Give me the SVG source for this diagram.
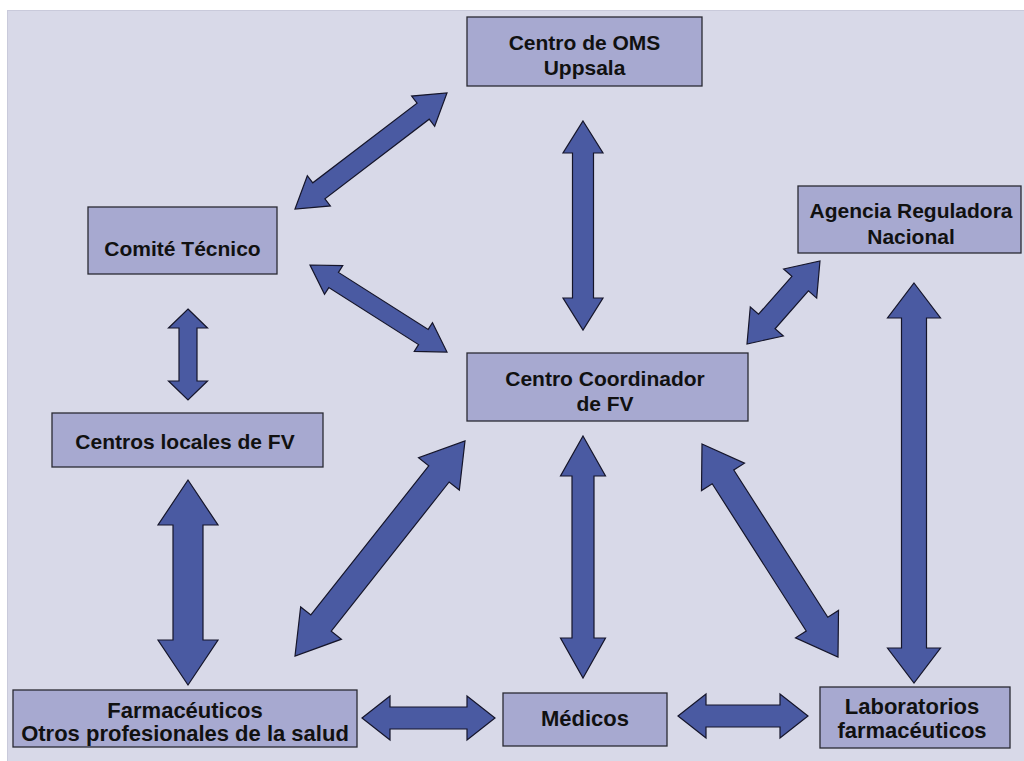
<svg xmlns="http://www.w3.org/2000/svg" width="1024" height="761" viewBox="0 0 1024 761">
<style>
.node rect{fill:#a7a9d0;stroke:#2a2a33;stroke-width:1.3}
.node text{font-family:"Liberation Sans",Arial,sans-serif;font-weight:bold;font-size:21px;fill:#111;text-anchor:middle}
.node text.b{font-size:22px}
#connectors path{fill:#4a5aa2;stroke:#15152a;stroke-width:1.2;stroke-linejoin:miter}
</style>
<rect x="0" y="0" width="1024" height="761" fill="#ffffff"/>
<rect x="7" y="10" width="1017" height="751" fill="#c9cadb"/>
<rect x="8" y="11" width="1016" height="750" fill="#d8d9e8"/>

<g id="connectors">
<!-- Uppsala - Comite -->
<path transform="translate(295,209) rotate(-37.35)" d="M0,0 L30,-19 L30,-10 L161.2,-10 L161.2,-19 L191.2,0 L161.2,19 L161.2,10 L30,10 L30,19 Z"/>
<!-- Uppsala - Coordinador -->
<path transform="translate(583,121) rotate(90)" d="M0,0 L32,-20 L32,-10.5 L177,-10.5 L177,-20 L209,0 L177,20 L177,10.5 L32,10.5 L32,20 Z"/>
<!-- Comite - Coordinador -->
<path transform="translate(310,265) rotate(32.42)" d="M0,0 L28,-17 L28,-9 L134.3,-9 L134.3,-17 L162.3,0 L134.3,17 L134.3,9 L28,9 L28,17 Z"/>
<!-- Agencia - Coordinador -->
<path transform="translate(747,344) rotate(-48.67)" d="M0,0 L30,-22 L30,-11 L80.5,-11 L80.5,-22 L110.5,0 L80.5,22 L80.5,11 L30,11 L30,22 Z"/>
<!-- Agencia - Laboratorios -->
<path transform="translate(914,283) rotate(90)" d="M0,0 L35,-26.5 L35,-12.5 L365,-12.5 L365,-26.5 L400,0 L365,26.5 L365,12.5 L35,12.5 L35,26.5 Z"/>
<!-- Comite - Centros locales -->
<path transform="translate(188,309) rotate(90)" d="M0,0 L19,-19.5 L19,-9 L72,-9 L72,-19.5 L91,0 L72,19.5 L72,9 L19,9 L19,19.5 Z"/>
<!-- Centros locales - Farmaceuticos -->
<path transform="translate(188,480) rotate(90)" d="M0,0 L45,-30 L45,-15 L160,-15 L160,-30 L205,0 L160,30 L160,15 L45,15 L45,30 Z"/>
<!-- Farmaceuticos - Coordinador -->
<path transform="translate(295,656) rotate(-51.67)" d="M0,0 L42,-26 L42,-13 L232.1,-13 L232.1,-26 L274.1,0 L232.1,26 L232.1,13 L42,13 L42,26 Z"/>
<!-- Medicos - Coordinador -->
<path transform="translate(583,436) rotate(90)" d="M0,0 L40,-22.5 L40,-11 L202,-11 L202,-22.5 L242,0 L202,22.5 L202,11 L40,11 L40,22.5 Z"/>
<!-- Coordinador - Laboratorios -->
<path transform="translate(702,444) rotate(57.44)" d="M0,0 L39,-25.5 L39,-12.8 L213.7,-12.8 L213.7,-25.5 L252.7,0 L213.7,25.5 L213.7,12.8 L39,12.8 L39,25.5 Z"/>
<!-- Farmaceuticos - Medicos -->
<path transform="translate(362,718)" d="M0,0 L28,-22 L28,-11 L105,-11 L105,-22 L133,0 L105,22 L105,11 L28,11 L28,22 Z"/>
<!-- Medicos - Laboratorios -->
<path transform="translate(678,716)" d="M0,0 L28,-22 L28,-11 L102,-11 L102,-22 L130,0 L102,22 L102,11 L28,11 L28,22 Z"/>
</g>

<g id="uppsala" class="node">
<rect x="467" y="17" width="235" height="69"/>
<text x="584.5" y="50">Centro de OMS</text>
<text x="584.5" y="75">Uppsala</text>
</g>
<g id="agencia" class="node">
<rect x="798" y="186" width="223" height="67"/>
<text x="911" y="218">Agencia Reguladora</text>
<text x="911" y="244">Nacional</text>
</g>
<g id="comite" class="node">
<rect x="88" y="207" width="189" height="67"/>
<text x="182.5" y="256">Comité Técnico</text>
</g>
<g id="centros-locales" class="node">
<rect x="52" y="413" width="271" height="54"/>
<text x="185" y="449">Centros locales de FV</text>
</g>
<g id="coordinador" class="node">
<rect x="467" y="353" width="281" height="68"/>
<text x="605" y="386">Centro Coordinador</text>
<text x="605" y="411">de FV</text>
</g>
<g id="farmaceuticos" class="node">
<rect x="13" y="690" width="344" height="57"/>
<text class="b" x="185" y="718">Farmacéuticos</text>
<text class="b" x="185" y="741">Otros profesionales de la salud</text>
</g>
<g id="medicos" class="node">
<rect x="503" y="693" width="164" height="53"/>
<text class="b" x="585" y="726">Médicos</text>
</g>
<g id="laboratorios" class="node">
<rect x="820" y="687" width="190" height="61"/>
<text class="b" x="912" y="714">Laboratorios</text>
<text class="b" x="912" y="738">farmacéuticos</text>
</g>
</svg>
